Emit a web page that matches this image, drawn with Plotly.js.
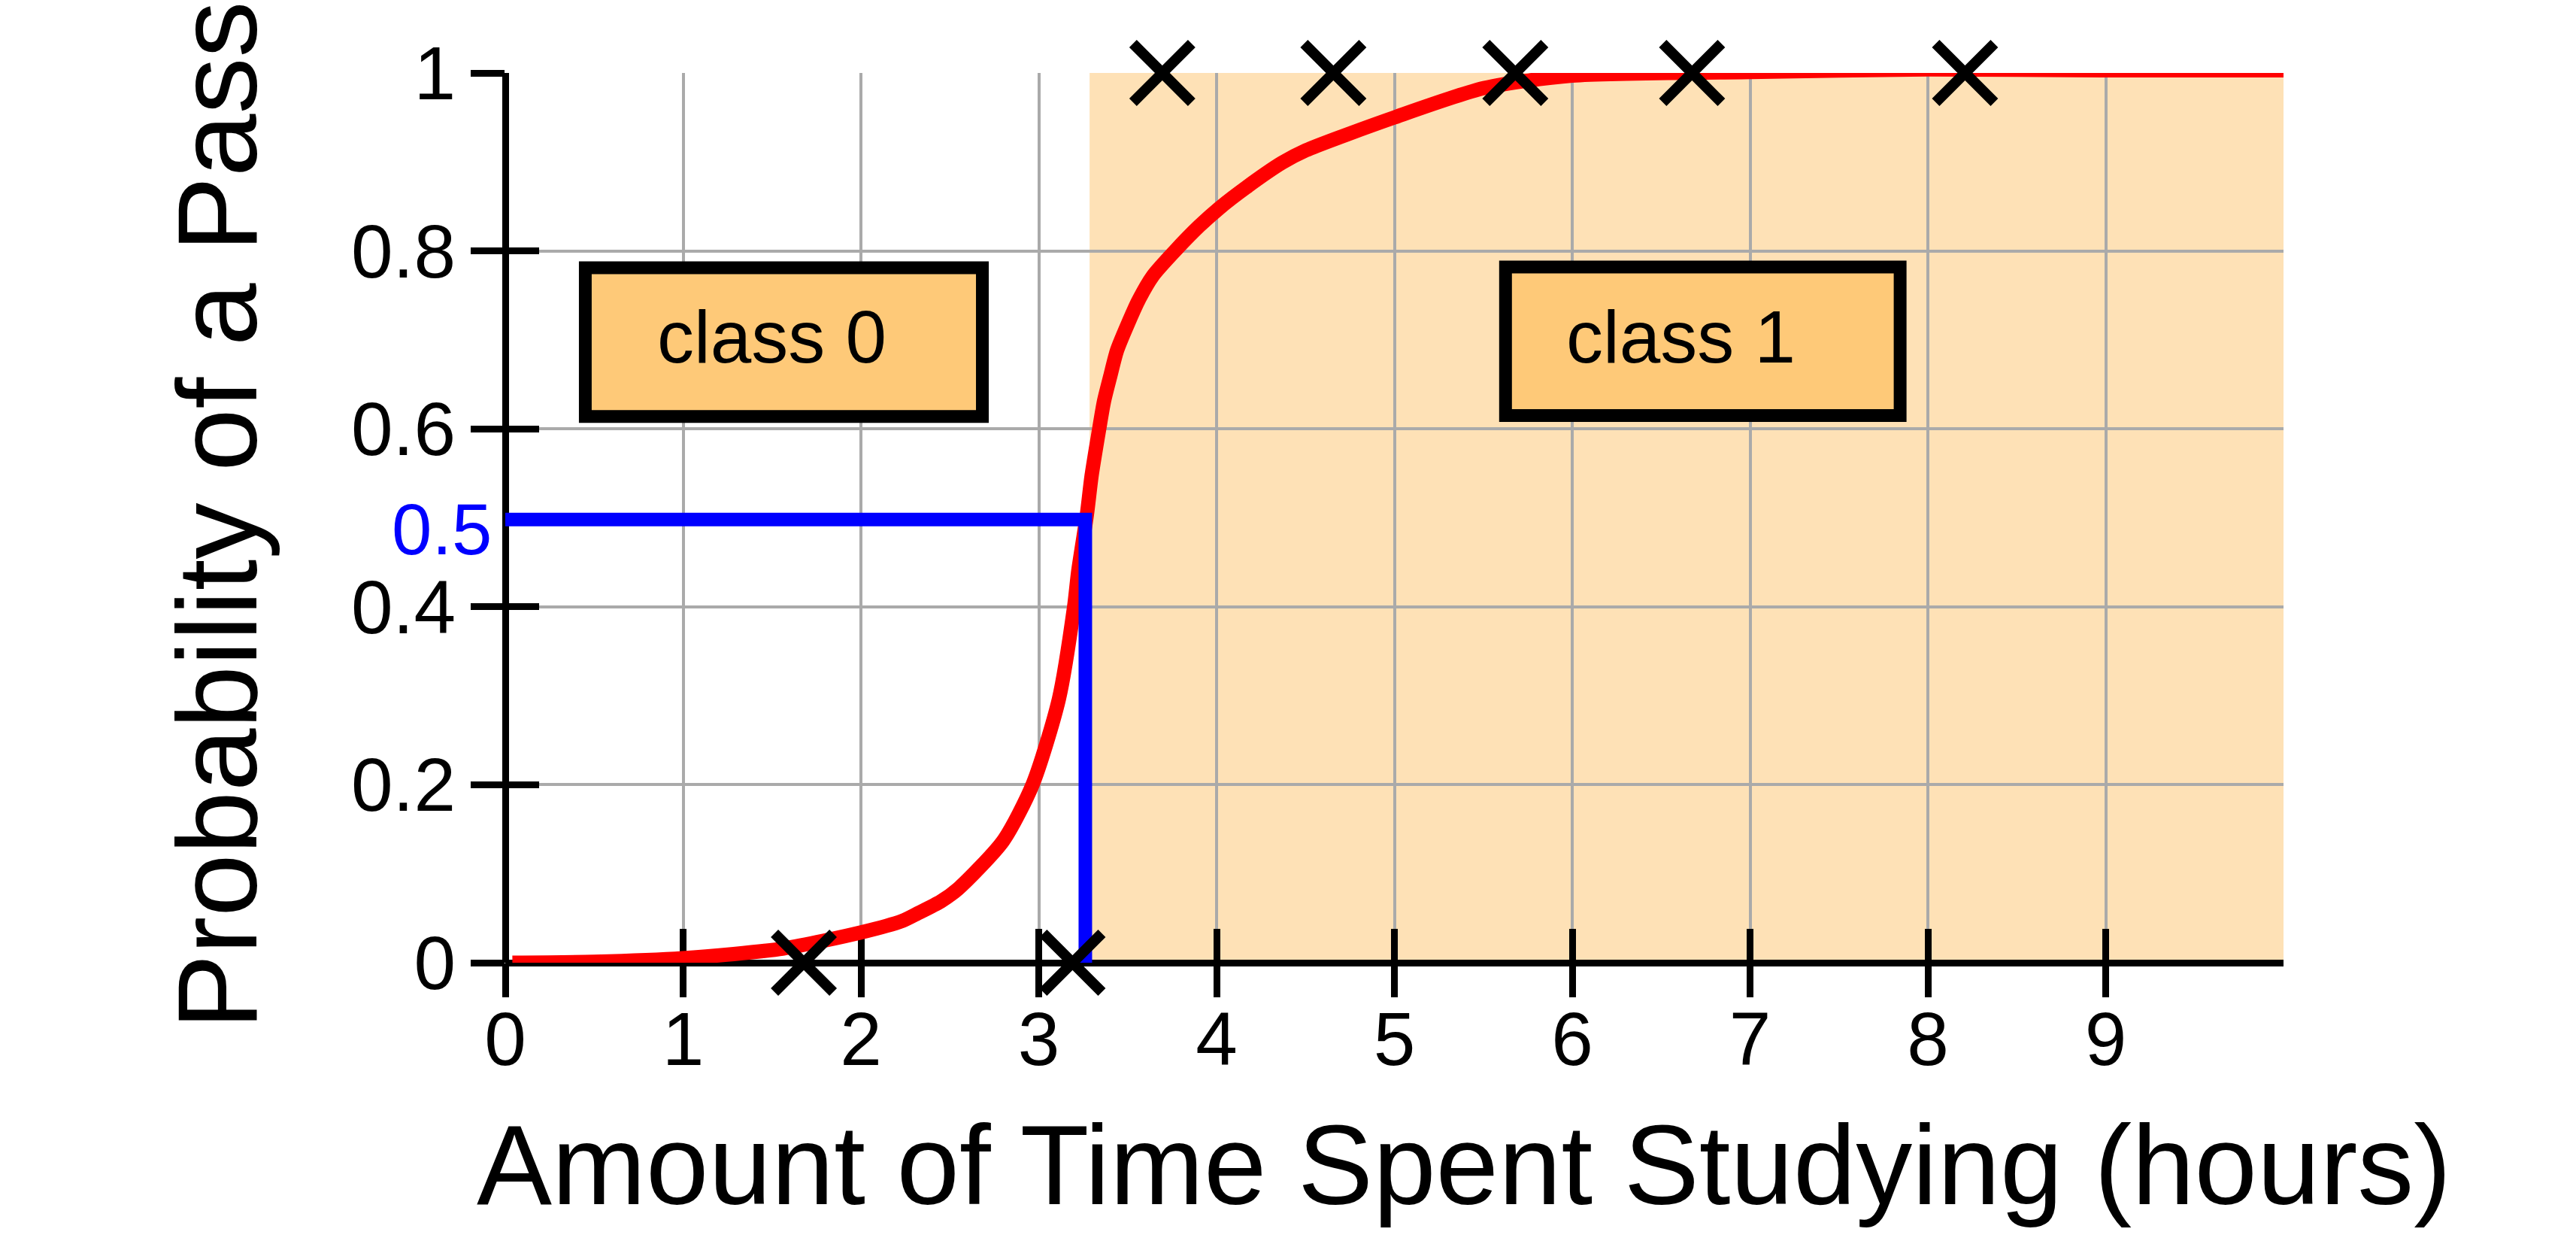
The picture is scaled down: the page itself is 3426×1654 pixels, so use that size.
<!DOCTYPE html>
<html>
<head>
<meta charset="utf-8">
<script src="https://cdn.plot.ly/plotly-3.0.1.min.js"></script>
<style>html,body{margin:0;padding:0;background:#fff;}#chart{width:3426px;height:1654px;}</style>
</head>
<body>
<div id="chart"></div>
<script>
// ---- data ----
const curveX = [0.04, 0.5, 1.0, 1.565, 2.0, 2.233, 2.32, 2.45, 2.546, 2.8, 2.966, 3.113, 3.199, 3.222, 3.271, 3.297, 3.340, 3.367, 3.402, 3.440, 3.497, 3.560, 3.642, 3.766, 3.903, 4.015, 4.164, 4.368, 4.502, 5.0, 5.505, 6.0, 7.0, 8.0, 9.0, 10.0];
const curveY = [0.000, 0.001, 0.005, 0.016, 0.034, 0.047, 0.0555, 0.069, 0.083, 0.137, 0.2005, 0.296, 0.400, 0.440, 0.504, 0.547, 0.600, 0.631, 0.659, 0.688, 0.716, 0.744, 0.772, 0.800, 0.828, 0.848, 0.871, 0.899, 0.913, 0.950, 0.983, 0.997, 1.001, 1.004, 1.003, 1.003];

const passX = [1.679, 3.19, 3.695, 4.657, 5.68, 6.674, 8.209];
const passY = [0, 0, 1, 1, 1, 1, 1];

const thresholdX = [0, 3.262, 3.262];
const thresholdY = [0.498, 0.498, 0];

const xTickVals = [0, 1, 2, 3, 4, 5, 6, 7, 8, 9];
const yTickVals = [0, 0.2, 0.4, 0.6, 0.8, 1];
const yTickText = ['0', '0.2', '0.4', '0.6', '0.8', '1'];

const class1Region = [3.286, 10];
const boxLabels = ['class 0', 'class 1'];
const boxX = [[0.450, 2.683], [5.625, 7.844]];
const boxY = [[0.614, 0.781], [0.615, 0.782]];
const boxTextX = [1.497, 6.613];
const boxTextY = [0.703, 0.703];

const xTitle = 'Amount of Time Spent Studying (hours)';
const yTitle = 'Probability of a Pass';
const thresholdLabel = '0.5';

// ---- styling ----
const FONT = 'Liberation Sans, Arial, Helvetica, sans-serif';
const shadeColor = '#FEE1B6';
const boxFill = '#FEC978';

const traces = [
  {x: curveX, y: curveY, mode: 'lines', line: {color: '#FF0000', width: 19, shape: 'spline', smoothing: 0.7}, cliponaxis: false, hoverinfo: 'skip', showlegend: false},
  {x: thresholdX, y: thresholdY, mode: 'lines', line: {color: '#0000FF', width: 18}, cliponaxis: false, hoverinfo: 'skip', showlegend: false},
  {x: passX, y: passY, mode: 'markers', marker: {symbol: 'x-thin-open', size: 78, color: '#000', line: {color: '#000', width: 14}}, cliponaxis: false, hoverinfo: 'skip', showlegend: false},
  {x: [0], y: [0], xaxis: 'x2', yaxis: 'y2', mode: 'markers', marker: {opacity: 0}, hoverinfo: 'skip', showlegend: false}
];

const shapes = [
  {type: 'rect', xref: 'x', yref: 'y', x0: class1Region[0], x1: class1Region[1], y0: 0, y1: 1, fillcolor: shadeColor, line: {width: 0}, layer: 'below'}
];
const annotations = [];
boxLabels.forEach((t, i) => {
  shapes.push({type: 'rect', xref: 'x', yref: 'y', x0: boxX[i][0], x1: boxX[i][1], y0: boxY[i][0], y1: boxY[i][1], fillcolor: boxFill, line: {color: '#000', width: 17}, layer: 'above'});
  annotations.push({xref: 'x', yref: 'y', x: boxTextX[i], y: boxTextY[i], text: t, showarrow: false, xanchor: 'center', yanchor: 'middle', font: {family: FONT, size: 98, color: '#000'}});
});
annotations.push({xref: 'paper', yref: 'y', x: -0.0068, y: 0.4876, xanchor: 'right', yanchor: 'middle', text: thresholdLabel, showarrow: false, font: {family: FONT, size: 96, color: '#0000FF'}});
annotations.push({xref: 'paper', yref: 'paper', x: -0.0169, y: -0.2278, xanchor: 'left', yanchor: 'middle', text: xTitle, showarrow: false, font: {family: FONT, size: 150, color: '#000'}});
annotations.push({xref: 'paper', yref: 'paper', x: -0.162, y: 0.503, xanchor: 'center', yanchor: 'middle', textangle: -90, text: yTitle, showarrow: false, font: {family: FONT, size: 150, color: '#000'}});

const axCommon = {tickcolor: '#000', tickwidth: 9, ticklen: 45, layer: 'below traces', linewidth: 0, showline: false};

const layout = {
  width: 3426, height: 1654,
  margin: {l: 672, r: 389, t: 97, b: 374, pad: 0},
  paper_bgcolor: '#fff', plot_bgcolor: '#fff',
  showlegend: false,
  font: {family: FONT, color: '#000'},
  xaxis: Object.assign({}, axCommon, {
    range: [0, 10], tickmode: 'array', tickvals: xTickVals, ticks: 'outside', ticklabelstandoff: -30,
    showgrid: true, gridcolor: '#AAAAAA', gridwidth: 4,
    zeroline: true, zerolinecolor: '#000', zerolinewidth: 9,
    tickfont: {family: FONT, size: 100, color: '#000'}
  }),
  xaxis2: Object.assign({}, axCommon, {
    range: [0, 10], tickmode: 'array', tickvals: xTickVals, ticks: 'inside', overlaying: 'x', anchor: 'y', side: 'bottom',
    showgrid: false, zeroline: false, showticklabels: false
  }),
  yaxis: Object.assign({}, axCommon, {
    range: [0, 1], tickmode: 'array', tickvals: yTickVals, ticktext: yTickText, ticks: 'outside',
    showgrid: true, gridcolor: '#AAAAAA', gridwidth: 4,
    zeroline: true, zerolinecolor: '#000', zerolinewidth: 9,
    tickfont: {family: FONT, size: 100, color: '#000'}
  }),
  yaxis2: Object.assign({}, axCommon, {
    range: [0, 1], tickmode: 'array', tickvals: yTickVals, ticks: 'inside', overlaying: 'y', anchor: 'x', side: 'left',
    showgrid: false, zeroline: false, showticklabels: false
  }),
  shapes: shapes,
  annotations: annotations
};

Plotly.newPlot('chart', traces, layout, {displayModeBar: false, staticPlot: true});
</script>
</body>
</html>
